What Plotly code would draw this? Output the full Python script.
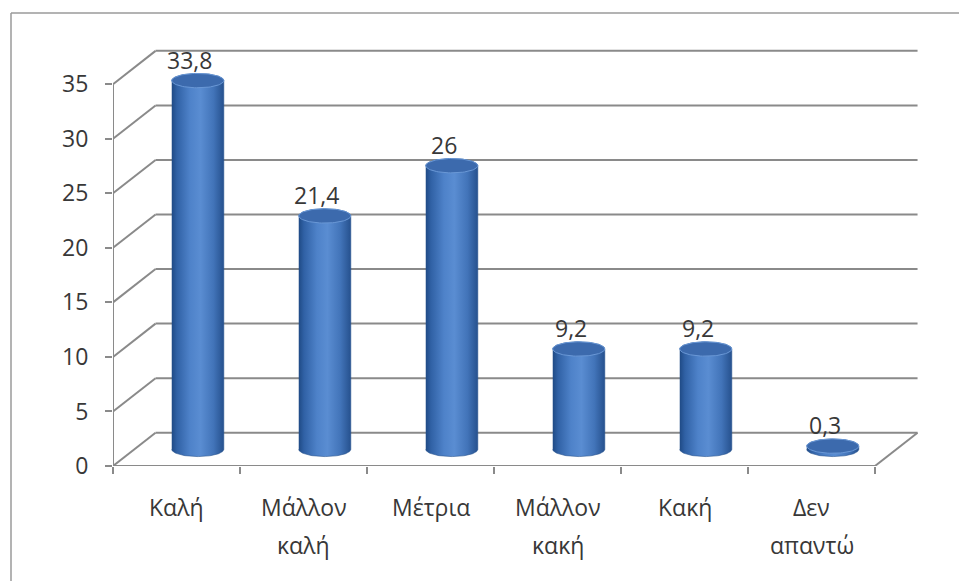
import numpy as np
import plotly.graph_objects as go

categories = ["Καλή", "Μάλλον\nκαλή", "Μέτρια", "Μάλλον\nκακή", "Κακή", "Δεν\nαπαντώ"]
values = [33.8, 21.4, 26, 9.2, 9.2, 0.3]
y_ticks = [0, 5, 10, 15, 20, 25, 30, 35]

# layout geometry (pixels)
W, H = 959, 581
L, R_M, T, B = 113, 34, 45, 115
PW, PH = W - L - R_M, H - T - B
n = len(categories)
YMAX = max(y_ticks)
x_range = [0, PW / 127.0]
y_range = [0, PH / 10.91]

DX, DY = 0.335, 3.05      # depth offset of the 3D box (axis units)
RAD, RY = 0.205, 0.66     # cylinder radius (x units) and ellipse half-height (y units)

GRID = "#8a8a8a"
FONT = "Open Sans"
TXT = "#383838"
FS = 23

fig = go.Figure()

cyl_scale = [[0.0, "#1f4a85"], [0.1, "#3061a5"], [0.35, "#4e82c9"], [0.55, "#5a8dd2"],
             [0.8, "#4274b9"], [1.0, "#26518e"]]

for i, v in enumerate(values):
    xc = i + 0.5 + DX / 2
    yb = DY / 2
    yt = v + DY / 2
    t = np.linspace(0, np.pi, 60)
    xs = np.concatenate([xc - RAD * np.cos(t), xc + RAD * np.cos(t)])
    ys = np.concatenate([yt + RY * np.sin(t), yb - RY * np.sin(t)])
    fig.add_trace(go.Scatter(
        x=xs, y=ys, mode="lines", fill="toself",
        fillgradient=dict(type="horizontal", colorscale=cyl_scale),
        line=dict(color="#2a5590", width=0.6), hoverinfo="skip", showlegend=False))
    tt = np.linspace(0, 2 * np.pi, 90)
    fig.add_trace(go.Scatter(
        x=xc + RAD * np.cos(tt), y=yt + RY * np.sin(tt), mode="lines", fill="toself",
        fillcolor="#3c6aad", line=dict(color="#6a98d6", width=1),
        hoverinfo="skip", showlegend=False))
    fig.add_annotation(x=xc, y=yt, xref="x", yref="y", text=f"{v:g}".replace(".", ","),
                       showarrow=False, yshift=21, xshift=-8,
                       font=dict(family=FONT, size=FS, color=TXT))

shapes = []
line = dict(color=GRID, width=2)
# back wall gridlines and left wall diagonals
for v in y_ticks:
    shapes.append(dict(type="line", xref="x", yref="y", x0=DX, y0=v + DY, x1=n + DX, y1=v + DY,
                       line=line, layer="below"))
    shapes.append(dict(type="line", xref="x", yref="y", x0=0, y0=v, x1=DX, y1=v + DY,
                       line=line, layer="below"))
# front vertical axis, front floor edge, right floor edge
shapes.append(dict(type="line", xref="x", yref="y", x0=0, y0=0, x1=0, y1=YMAX, line=line, layer="below"))
shapes.append(dict(type="line", xref="x", yref="y", x0=0, y0=0, x1=n, y1=0, line=line, layer="below"))
shapes.append(dict(type="line", xref="x", yref="y", x0=n, y0=0, x1=n + DX, y1=DY, line=line, layer="below"))

# outer chart frame (partly cropped in the reference)
def px_x(p):
    return (p - L) / PW

def px_y(p):
    return (H - B - p) / PH

frame = dict(color="#9a9a9a", width=1.5)
shapes.append(dict(type="line", xref="paper", yref="paper", x0=px_x(11), y0=px_y(13),
                   x1=px_x(W + 5), y1=px_y(13), line=frame))
shapes.append(dict(type="line", xref="paper", yref="paper", x0=px_x(11), y0=px_y(13),
                   x1=px_x(11), y1=px_y(H + 5), line=frame))

# category labels (two-line, wide spacing)
for i, c in enumerate(categories):
    for k, part in enumerate(c.split("\n")):
        fig.add_annotation(x=i + 0.5, y=0, xref="x", yref="paper", text=part, showarrow=False,
                           yanchor="middle", yshift=-(41 + 38 * k),
                           font=dict(family=FONT, size=FS, color=TXT))

fig.update_layout(
    width=W, height=H, margin=dict(l=L, r=R_M, t=T, b=B),
    paper_bgcolor="white", plot_bgcolor="white",
    shapes=shapes, showlegend=False,
    xaxis=dict(range=x_range, showgrid=False, zeroline=False, showline=False,
               showticklabels=False, ticks="", fixedrange=True,
               minor=dict(tickmode="array", tickvals=list(range(n + 1)), ticks="outside",
                          ticklen=7, tickwidth=2, tickcolor=GRID, showgrid=False)),
    yaxis=dict(range=y_range, tickmode="array", tickvals=y_ticks, ticks="outside", ticklen=7,
               tickwidth=2, tickcolor=GRID, showgrid=False, zeroline=False, showline=False,
               ticklabelstandoff=12, fixedrange=True,
               tickfont=dict(family=FONT, size=FS, color=TXT)),
)

fig.write_html("out.html")
